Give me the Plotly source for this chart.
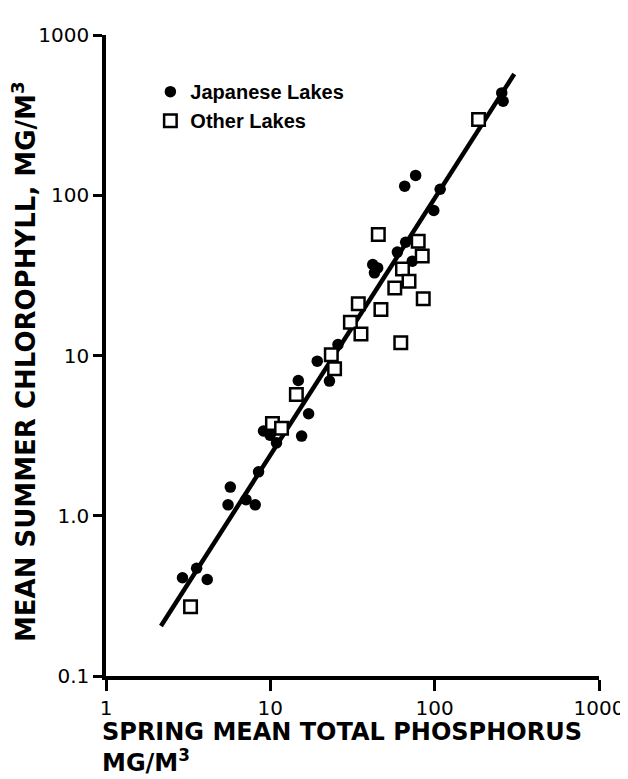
import plotly.graph_objects as go

# Japanese lakes (filled circles)
jp_tp = [2.92, 3.56, 4.13, 5.71, 5.53, 7.11, 8.09, 8.48, 9.09, 9.96, 10.9, 15.5,
         17.1, 14.8, 19.3, 22.9, 25.8, 42.0, 45.0, 43.0, 59.3, 66.6, 73.1, 65.7,
         76.6, 98.8, 108.0, 256.0, 261.0]
jp_chl = [0.41, 0.47, 0.40, 1.51, 1.17, 1.26, 1.17, 1.88, 3.38, 3.18, 2.85, 3.14,
          4.33, 6.98, 9.22, 6.92, 11.7, 37.0, 35.2, 32.8, 44.2, 50.9, 38.8, 114.0,
          133.0, 80.3, 109.0, 435.0, 386.0]

# Other lakes (open squares)
ot_tp = [3.27, 10.3, 11.7, 14.4, 23.5, 24.6, 30.7, 34.3, 35.6, 45.4, 47.1, 57.2,
         62.2, 63.7, 69.8, 79.4, 84.0, 85.2, 185.0]
ot_chl = [0.27, 3.77, 3.51, 5.71, 10.1, 8.26, 16.1, 21.0, 13.6, 56.9, 19.4, 26.4,
          12.0, 34.7, 29.1, 51.7, 41.7, 22.6, 297.0]

# regression line endpoints
line_tp = [2.16, 305.0]
line_chl = [0.205, 571.0]

x_tickvals = [1, 10, 100, 1000]
x_ticktext = ["1", "10", "100", "1000"]
y_tickvals = [0.1, 1, 10, 100, 1000]
y_ticktext = ["0.1", "1.0", "10", "100", "1000"]

fig = go.Figure()
fig.add_trace(go.Scatter(x=line_tp, y=line_chl, mode="lines",
                         line=dict(color="black", width=4.5), showlegend=False,
                         hoverinfo="skip"))
fig.add_trace(go.Scatter(x=jp_tp, y=jp_chl, mode="markers",
                         name="<b>Japanese Lakes</b>",
                         marker=dict(symbol="circle", size=11.5, color="black")))
fig.add_trace(go.Scatter(x=ot_tp, y=ot_chl, mode="markers",
                         name="<b>Other Lakes</b>",
                         marker=dict(symbol="square", size=12.5, color="white",
                                     line=dict(color="black", width=2.5))))

axis_common = dict(type="log", showgrid=False, zeroline=False, showline=True,
                   linecolor="black", linewidth=3.5, ticks="outside",
                   tickcolor="black", tickwidth=2.5,
                   tickfont=dict(family="DejaVu Sans", size=20, color="black"))

fig.update_xaxes(range=[0, 3], tickvals=x_tickvals, ticktext=x_ticktext,
                 ticklen=11, ticklabelstandoff=0, **axis_common)
fig.update_yaxes(range=[-1, 3], tickvals=y_tickvals, ticktext=y_ticktext,
                 ticklen=9, **axis_common)

fig.add_annotation(text="<b>SPRING MEAN TOTAL PHOSPHORUS<br>MG/M<sup>3</sup></b>",
                   xref="paper", yref="paper", x=-0.012, y=-0.112,
                   xanchor="left", yanchor="middle", align="left",
                   showarrow=False,
                   font=dict(family="DejaVu Sans", size=24, color="black"))
fig.add_annotation(text="<b>MEAN SUMMER CHLOROPHYLL, MG/M<sup>3</sup></b>",
                   xref="paper", yref="paper", x=-0.166, y=0.49,
                   xanchor="center", yanchor="middle", textangle=-90,
                   showarrow=False,
                   font=dict(family="DejaVu Sans", size=26, color="black"))

fig.update_layout(
    width=628, height=779,
    margin=dict(l=98, r=33, t=27, b=111),
    plot_bgcolor="white", paper_bgcolor="white",
    legend=dict(x=0.09, y=0.942, xanchor="left", yanchor="top",
                font=dict(family="Liberation Sans", size=20, color="black"),
                bgcolor="rgba(0,0,0,0)", tracegroupgap=0, itemwidth=30),
)

fig.write_html("out.html")
